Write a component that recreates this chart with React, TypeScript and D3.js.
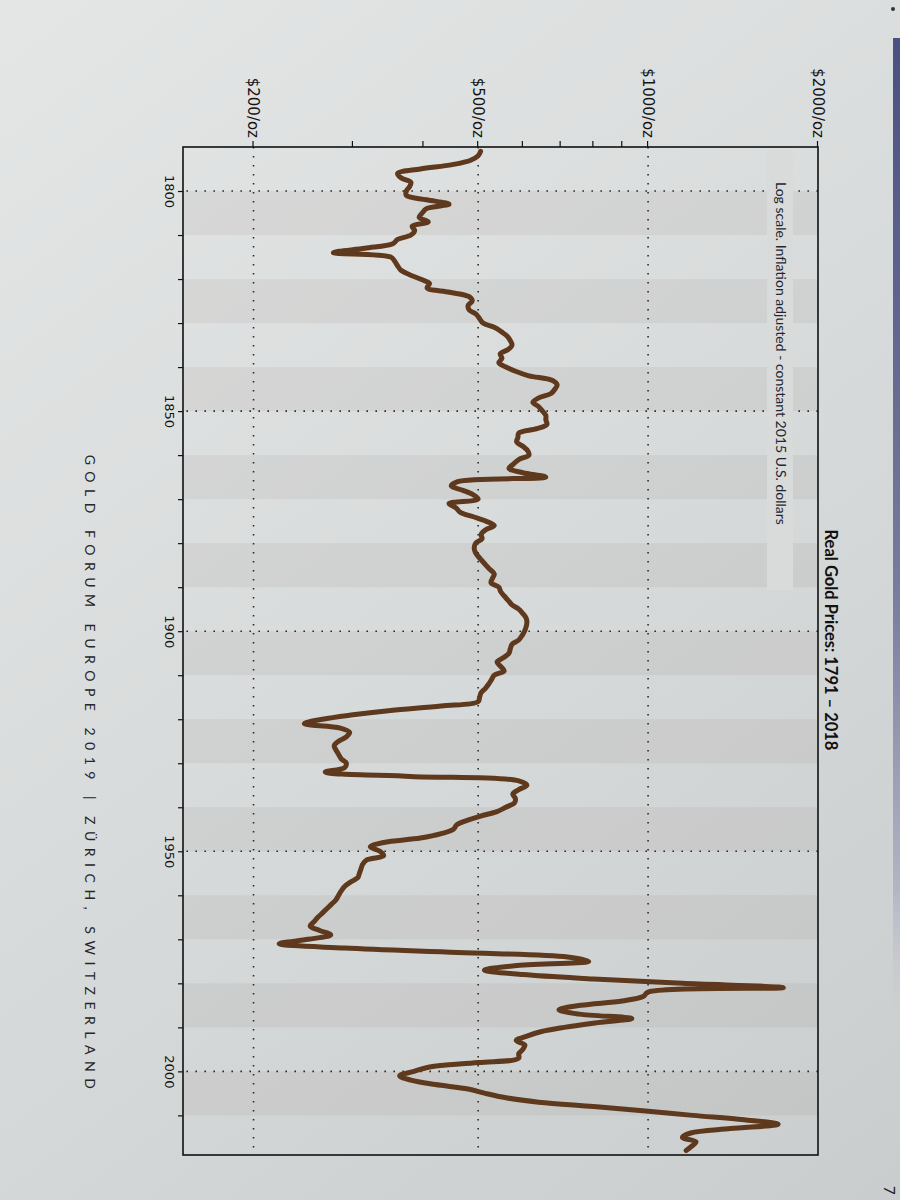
import { useEffect, useRef } from "react";
import * as d3 from "d3";

// real gold price, constant 2015 USD per oz, one value a year from START_YEAR
const START_YEAR = 1791;
const REAL_PRICE = [
  505, 500, 485, 450, 395, 360, 365, 380, 378, 373, // 1791-1800
  373, 405, 444, 405, 398, 393, 408, 382, 386, 380, // 1801-1810
  360, 353, 315, 277, 350, 356, 360, 365, 378, 395, // 1811-1820
  410, 406, 445, 482, 488, 480, 482, 496, 503, 510, // 1821-1830
  535, 550, 563, 570, 574, 565, 547, 551, 544, 560, // 1831-1840
  584, 615, 676, 690, 684, 673, 640, 625, 640, 650, // 1841-1850
  659, 659, 662, 635, 590, 588, 585, 600, 612, 615, // 1851-1860
  590, 578, 567, 600, 659, 460, 448, 470, 490, 500, // 1861-1870
  444, 457, 465, 490, 516, 534, 515, 506, 508, 495, // 1871-1880
  492, 494, 500, 508, 516, 525, 534, 530, 527, 544, // 1881-1890
  548, 556, 565, 574, 590, 600, 608, 610, 608, 604, // 1891-1900
  598, 590, 574, 570, 567, 555, 540, 548, 556, 534, // 1901-1910
  528, 522, 515, 506, 503, 500, 430, 350, 300, 265, // 1911-1920
  246, 285, 296, 292, 283, 278, 280, 283, 286, 292, // 1921-1930
  290, 268, 380, 590, 610, 590, 576, 582, 580, 560, // 1931-1940
  540, 505, 478, 458, 452, 430, 395, 340, 322, 335, // 1941-1950
  340, 317, 312, 310, 308, 306, 297, 290, 286, 283, // 1951-1960
  280, 275, 270, 265, 260, 256, 252, 262, 274, 250, // 1961-1970
  222, 290, 460, 720, 785, 580, 513, 600, 800, 1150, // 1971-1980
  1736, 1000, 980, 900, 760, 695, 755, 936, 805, 710, // 1981-1990
  645, 610, 584, 605, 600, 590, 590, 500, 410, 385, // 1991-2000
  363, 380, 420, 480, 515, 560, 640, 800, 990, 1200, // 2001-2010
  1480, 1700, 1400, 1190, 1150, 1216, 1195, 1168, // 2011-2018
];

const PRICE_LABELS = [200, 500, 1000, 2000];
const PRICE_MINOR = [300, 400, 600, 700, 800, 900];
const PRICE_GRID = [200, 500, 1000];
const YEAR_LABELS = [1800, 1850, 1900, 1950, 2000];
const BAND_STARTS = [1800, 1820, 1840, 1860, 1880, 1900, 1920, 1940, 1960, 1980, 2000];

const TITLE = "Real Gold Prices: 1791 \u2013 2018";
const SUBTITLE = "Log scale. Inflation adjusted - constant 2015 U.S. dollars";
const FOOTER = "GOLD FORUM EUROPE 2019  |  Z\u00dcRICH, SWITZERLAND";
const PAGE_NO = "7";

export default function App() {
  const ref = useRef<SVGSVGElement>(null);

  useEffect(() => {
    if (!ref.current) return;
    const svg = d3.select(ref.current);
    svg.selectAll("*").remove();

    const width = 900;
    const height = 1200;

    // the page is photographed sideways: the chart is drawn normally, then turned 90deg
    const frameTop = 147;
    const frameRight = 818;
    const plotW = 1008; // years run down the page
    const plotH = 635; // prices run left to right

    const defs = svg.append("defs");
    const paper = defs.append("linearGradient")
      .attr("id", "paper")
      .attr("gradientUnits", "userSpaceOnUse")
      .attr("x1", 0).attr("y1", 0).attr("x2", width).attr("y2", height);
    paper.append("stop").attr("offset", 0).attr("stop-color", "#e4e6e6");
    paper.append("stop").attr("offset", 0.5).attr("stop-color", "#d8dbdb");
    paper.append("stop").attr("offset", 1).attr("stop-color", "#cacdcd");

    const edge = defs.append("linearGradient")
      .attr("id", "edge")
      .attr("x1", 0).attr("y1", 0).attr("x2", 0).attr("y2", 1);
    edge.append("stop").attr("offset", 0).attr("stop-color", "#4b5082");
    edge.append("stop").attr("offset", 0.55).attr("stop-color", "#777b9d");
    edge.append("stop").attr("offset", 0.85).attr("stop-color", "#b3b5c4");
    edge.append("stop").attr("offset", 1).attr("stop-color", "#cfd1d3").attr("stop-opacity", 0);

    svg.append("rect")
      .attr("width", width)
      .attr("height", height)
      .attr("fill", "url(#paper)");

    svg.append("rect")
      .attr("x", 893)
      .attr("y", 38)
      .attr("width", 7)
      .attr("height", 1000)
      .attr("fill", "url(#edge)");

    svg.append("circle")
      .attr("cx", 893)
      .attr("cy", 9)
      .attr("r", 2)
      .attr("fill", "#333");

    const x = d3.scaleLinear().domain([1790, 2019]).range([0, plotW]);
    const y = d3.scaleLog().domain([150, 2000]).range([plotH, 0]);

    const g = svg.append("g")
      .attr("transform", `translate(${frameRight},${frameTop}) rotate(90)`);

    // alternating decade bands
    g.append("g")
      .selectAll("rect")
      .data(BAND_STARTS)
      .join("rect")
        .attr("x", d => x(d))
        .attr("y", 0)
        .attr("width", d => Math.min(x(d + 10), plotW) - x(d))
        .attr("height", plotH)
        .attr("fill", "#7d7464")
        .attr("fill-opacity", 0.09);

    // dotted grid
    const grid = g.append("g")
      .attr("stroke", "#2b2b2b")
      .attr("stroke-width", 1.6)
      .attr("stroke-dasharray", "1.6 7.4");
    grid.selectAll(".gy")
      .data(PRICE_GRID)
      .join("line")
        .attr("class", "gy")
        .attr("x1", 0)
        .attr("x2", plotW)
        .attr("y1", d => y(d))
        .attr("y2", d => y(d));
    grid.selectAll(".gx")
      .data(YEAR_LABELS)
      .join("line")
        .attr("class", "gx")
        .attr("x1", d => x(d))
        .attr("x2", d => x(d))
        .attr("y1", 0)
        .attr("y2", plotH);

    // soft box behind the note
    g.append("rect")
      .attr("x", 3)
      .attr("y", 25)
      .attr("width", 440)
      .attr("height", 26)
      .attr("fill", "#d9dbda");

    g.append("text")
      .attr("x", 35)
      .attr("y", 42)
      .attr("font-family", "Lato, sans-serif")
      .attr("font-size", 14)
      .attr("fill", "#1d2733")
      .text(SUBTITLE);

    // price axis (top of the photo)
    g.append("g")
      .call(d3.axisLeft(y)
        .tickValues(PRICE_LABELS)
        .tickFormat(d => `$${d}/oz`)
        .tickSize(6)
        .tickPadding(3))
      .call(a => a.select(".domain").remove())
      .call(a => a.selectAll("line").attr("stroke", "#111").attr("stroke-width", 1.2))
      .call(a => a.selectAll("text")
        .attr("font-family", "'DejaVu Sans', Verdana, sans-serif")
        .attr("font-size", 15)
        .attr("fill", "#151515"));

    g.append("g")
      .call(d3.axisLeft(y).tickValues(PRICE_MINOR).tickFormat(() => "").tickSize(6))
      .call(a => a.select(".domain").remove())
      .call(a => a.selectAll("line").attr("stroke", "#111").attr("stroke-width", 1.2));

    // year axis (left of the photo)
    g.append("g")
      .attr("transform", `translate(0,${plotH})`)
      .call(d3.axisBottom(x)
        .tickValues(d3.range(1800, 2011, 10))
        .tickFormat(d => (YEAR_LABELS.includes(+d) ? String(d) : ""))
        .tickSize(5)
        .tickPadding(4))
      .call(a => a.select(".domain").remove())
      .call(a => a.selectAll("line").attr("stroke", "#111").attr("stroke-width", 1.2))
      .call(a => a.selectAll("text")
        .attr("font-family", "'DejaVu Sans', Verdana, sans-serif")
        .attr("font-size", 13)
        .attr("fill", "#151515"));

    g.append("rect")
      .attr("width", plotW)
      .attr("height", plotH)
      .attr("fill", "none")
      .attr("stroke", "#111")
      .attr("stroke-width", 1.6);

    const line = d3.line<number>()
      .x((_, i) => x(START_YEAR + i))
      .y(d => y(d))
      .curve(d3.curveCatmullRom.alpha(0.5));

    g.append("path")
      .datum(REAL_PRICE)
      .attr("d", line)
      .attr("fill", "none")
      .attr("stroke", "#5e391d")
      .attr("stroke-width", 5)
      .attr("stroke-linejoin", "round")
      .attr("stroke-linecap", "round");

    g.append("text")
      .attr("x", 493)
      .attr("y", -7)
      .attr("text-anchor", "middle")
      .attr("font-family", "Lato, sans-serif")
      .attr("font-weight", 700)
      .attr("font-size", 16.5)
      .attr("fill", "#111")
      .text(TITLE);

    g.append("text")
      .attr("x", 628)
      .attr("y", 733)
      .attr("text-anchor", "middle")
      .attr("font-family", "Lato, sans-serif")
      .attr("font-weight", 400)
      .attr("font-size", 14)
      .attr("letter-spacing", 6.5)
      .attr("fill", "#262626")
      .text(FOOTER);

    svg.append("text")
      .attr("transform", "translate(884,1186) rotate(90)")
      .attr("font-family", "Lato, sans-serif")
      .attr("font-size", 15)
      .attr("fill", "#222")
      .text(PAGE_NO);
  }, []);

  return (
    <svg
      ref={ref}
      width={900}
      height={1200}
      style={{ position: "absolute", left: 0, top: 0, display: "block" }}
    />
  );
}
